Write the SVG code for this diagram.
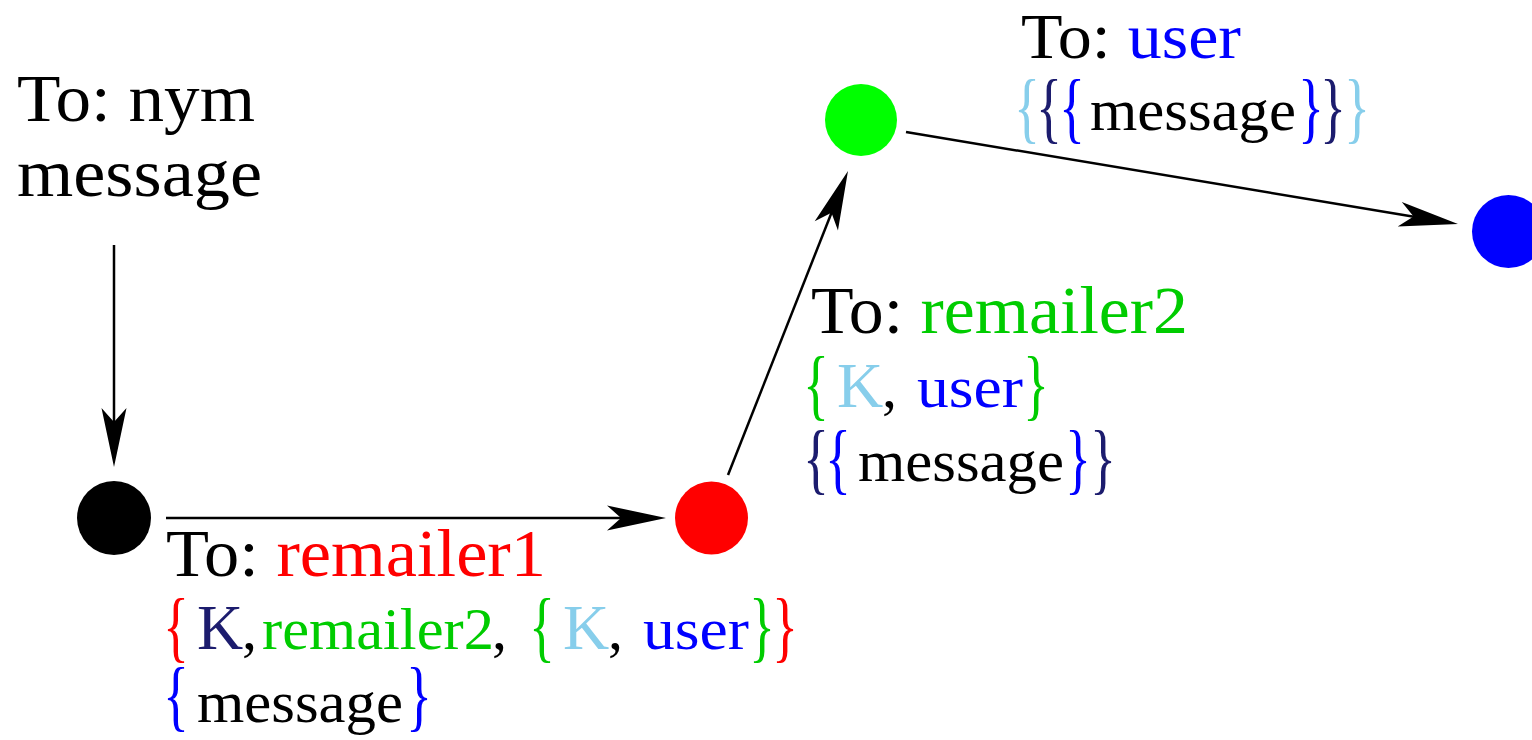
<svg xmlns="http://www.w3.org/2000/svg" width="1532" height="740" viewBox="0 0 1532 740">
<style>
text{font-family:"Liberation Serif","Times New Roman",serif;fill:#000}
.big{font-size:68px}
.body{font-size:60px}
.br{font-size:78px}
.k{font-size:64px}
.red{fill:#ff0000}
.grn{fill:#00cc00}
.blu{fill:#0000ff}
.nav{fill:#1c1c6e}
.sky{fill:#87ceeb}
.conn{stroke:#000;stroke-width:2.5;fill:none;marker-end:url(#stealth)}
</style>
<defs>
<marker id="stealth" markerUnits="userSpaceOnUse" viewBox="-62 -15 64 30" markerWidth="64" markerHeight="30" refX="-40" refY="0" orient="auto">
<path d="M0,0 L-59,-12.5 L-45,0 L-59,12.5 Z" fill="#000"/>
</marker>
</defs>
<g id="connectors">
<line class="conn" x1="114" y1="245" x2="114" y2="427"/>
<line class="conn" x1="166" y1="518" x2="626" y2="518"/>
<line class="conn" x1="728" y1="475" x2="833.3" y2="208.2"/>
<line class="conn" x1="906" y1="132" x2="1418.5" y2="217.4"/>
</g>
<g id="node-sender"><circle cx="114" cy="518" r="37" fill="#000"/></g>
<g id="node-remailer1"><circle cx="711.5" cy="518" r="36.5" fill="#ff0000"/></g>
<g id="node-remailer2"><circle cx="861" cy="120" r="36" fill="#00ff00"/></g>
<g id="node-user"><circle cx="1508.5" cy="231.5" r="36.5" fill="#0000ff"/></g>
<g id="label-nym">
<text class="big" x="17" y="121" textLength="238" lengthAdjust="spacingAndGlyphs">To: nym</text>
<text class="big" x="17" y="196" textLength="245" lengthAdjust="spacingAndGlyphs">message</text>
</g>
<g id="label-remailer1">
<text class="big" x="166" y="576" textLength="380" lengthAdjust="spacingAndGlyphs">To: <tspan class="red">remailer1</tspan></text>
<text class="body" y="649"><tspan class="br red" x="163" y="653" textLength="26" lengthAdjust="spacingAndGlyphs">{</tspan><tspan class="k nav" x="197" y="649">K</tspan><tspan x="242">,</tspan><tspan class="grn" x="262" textLength="232" lengthAdjust="spacingAndGlyphs">remailer2</tspan><tspan x="492">,</tspan><tspan class="br grn" x="529" y="653" textLength="26" lengthAdjust="spacingAndGlyphs">{</tspan><tspan class="k sky" x="563" y="649">K</tspan><tspan x="608">,</tspan><tspan class="blu" x="643" textLength="106" lengthAdjust="spacingAndGlyphs">user</tspan><tspan class="br grn" x="749" y="653" textLength="26" lengthAdjust="spacingAndGlyphs">}</tspan><tspan class="br red" x="772" y="653" textLength="26" lengthAdjust="spacingAndGlyphs">}</tspan></text>
<text class="body" y="722"><tspan class="br blu" x="163" y="722" textLength="26" lengthAdjust="spacingAndGlyphs">{</tspan><tspan x="197" y="722" textLength="206" lengthAdjust="spacingAndGlyphs">message</tspan><tspan class="br blu" x="406" y="722" textLength="26" lengthAdjust="spacingAndGlyphs">}</tspan></text>
</g>
<g id="label-remailer2">
<text class="big" x="811" y="333" textLength="377" lengthAdjust="spacingAndGlyphs">To: <tspan class="grn">remailer2</tspan></text>
<text class="body" y="407"><tspan class="br grn" x="803" y="411" textLength="26" lengthAdjust="spacingAndGlyphs">{</tspan><tspan class="k sky" x="837" y="407">K</tspan><tspan x="882">,</tspan><tspan class="blu" x="917" textLength="106" lengthAdjust="spacingAndGlyphs">user</tspan><tspan class="br grn" x="1023" y="411" textLength="26" lengthAdjust="spacingAndGlyphs">}</tspan></text>
<text class="body" y="481"><tspan class="br nav" x="803" y="485" textLength="26" lengthAdjust="spacingAndGlyphs">{</tspan><tspan class="br blu" x="825" y="485" textLength="26" lengthAdjust="spacingAndGlyphs">{</tspan><tspan x="858" y="481" textLength="206" lengthAdjust="spacingAndGlyphs">message</tspan><tspan class="br blu" x="1065" y="485" textLength="26" lengthAdjust="spacingAndGlyphs">}</tspan><tspan class="br nav" x="1090" y="485" textLength="26" lengthAdjust="spacingAndGlyphs">}</tspan></text>
</g>
<g id="label-user">
<text class="big" x="1021" y="58" style="font-size:64px" textLength="220" lengthAdjust="spacingAndGlyphs">To: <tspan class="blu">user</tspan></text>
<text class="body" y="130"><tspan class="br sky" x="1014" y="134" textLength="26" lengthAdjust="spacingAndGlyphs">{</tspan><tspan class="br nav" x="1036" y="134" textLength="26" lengthAdjust="spacingAndGlyphs">{</tspan><tspan class="br blu" x="1059" y="134" textLength="26" lengthAdjust="spacingAndGlyphs">{</tspan><tspan x="1090" y="130" textLength="206" lengthAdjust="spacingAndGlyphs">message</tspan><tspan class="br blu" x="1298" y="134" textLength="26" lengthAdjust="spacingAndGlyphs">}</tspan><tspan class="br nav" x="1320" y="134" textLength="26" lengthAdjust="spacingAndGlyphs">}</tspan><tspan class="br sky" x="1344" y="134" textLength="26" lengthAdjust="spacingAndGlyphs">}</tspan></text>
</g>
</svg>
